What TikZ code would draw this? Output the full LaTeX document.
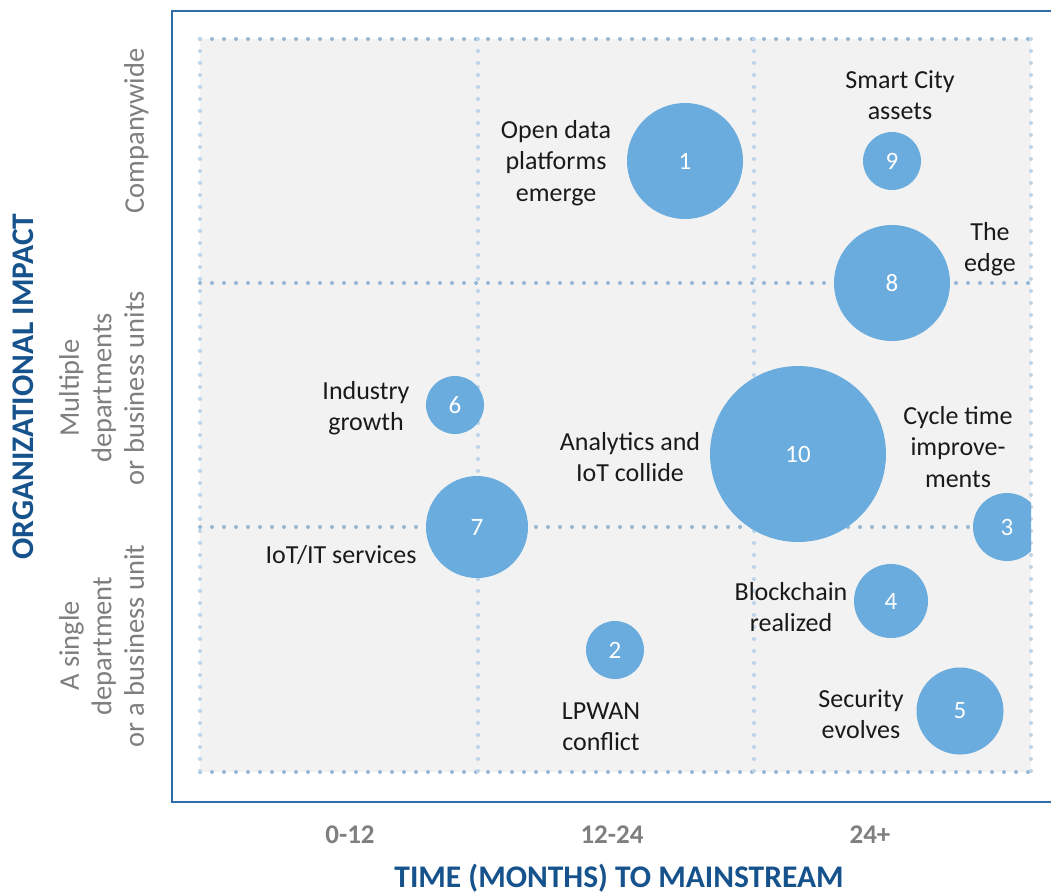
\documentclass[tikz,border=0pt]{standalone}
\usepackage{fontspec}
\setmainfont{Carlito}
\definecolor{bubc}{RGB}{107,172,222}
\definecolor{bgc}{RGB}{242,242,242}
\definecolor{framec}{RGB}{46,109,165}
\definecolor{hdotc}{RGB}{150,183,212}
\definecolor{vdotc}{RGB}{188,212,234}
\definecolor{labelc}{RGB}{26,26,26}
\definecolor{grayc}{RGB}{127,127,127}
\definecolor{titlec}{RGB}{22,82,140}
\newcommand\firstln{\rule{0pt}{22pt}}
\newcommand\lastln{\rule[-9pt]{0pt}{9pt}}
\begin{document}
\begin{tikzpicture}[x=1pt,y=-1pt,
  lbl/.style={align=center, inner sep=0pt, anchor=north, text=labelc,
    font=\fontsize{26}{31.5}\selectfont},
  lblone/.style={inner sep=0pt, anchor=base, text=labelc,
    font=\fontsize{26}{31.5}\selectfont},
  rowlbl/.style={align=center, inner sep=0pt, anchor=south, rotate=90, text=grayc,
    font=\fontsize{28.5}{32.5}\selectfont},
  ticklbl/.style={inner sep=0pt, anchor=base, text=grayc,
    font=\fontsize{27}{32}\selectfont\bfseries},
  axtitle/.style={inner sep=0pt, anchor=base, text=titlec,
    font=\fontsize{31.5}{36}\selectfont\bfseries},
  bub/.style={circle, fill=bubc, inner sep=0pt, text=white,
    font=\fontsize{25}{30}\selectfont},
  hdots/.style={draw=hdotc, line width=4pt, line cap=round, dash pattern=on 0pt off 12pt},
  vdots/.style={draw=vdotc, line width=4pt, line cap=round, dash pattern=on 0pt off 12pt}
]
\clip (0,0) rectangle (1051,895);
\fill[white] (0,0) rectangle (1051,895);
% frame and plot area
\draw[framec, line width=2.5pt] (172,11) rectangle (1080,802);
\fill[bgc] (200,39) rectangle (1031,772);
% grid
\foreach \yy in {39,283,527,772} \draw[hdots] (200,\yy) -- (1031,\yy);
\foreach \xx in {200,478,754,1031} \draw[vdots] (\xx,39) -- (\xx,772);
% axis titles
\node[axtitle] (xtitle) at (619,887) {TIME (MONTHS) TO MAINSTREAM};
\node[axtitle, rotate=90] (ytitle) at (33,386.5) {ORGANIZATIONAL IMPACT};
% tick labels
\node[ticklbl] (t1) at (350,843) {0-12};
\node[ticklbl] (t2) at (612,843) {12-24};
\node[ticklbl] (t3) at (870,843) {24+};
% row labels
\node[rowlbl] (r1) at (153,131) {Companywide\lastln};
\node[rowlbl] (r2) at (153,388) {Multiple\\departments\\or business units\lastln};
\node[rowlbl] (r3) at (153,646) {A single\\department\\or a business unit\lastln};
% bubble labels
\node[lbl] (l1) at (556,116) {\firstln Open data\\platforms\\emerge};
\node[lbl] (l9) at (900,66) {\firstln Smart City\\assets};
\node[lbl] (l8) at (990,218) {\firstln The\\edge};
\node[lbl] (l6) at (366,377) {\firstln Industry\\growth};
\node[lbl] (l10) at (630,428) {\firstln Analytics and\\IoT collide};
\node[lblone] (l7) at (341,563) {IoT/IT services};
\node[lbl] (l3) at (958,402) {\firstln Cycle time\\improve-\\ments};
\node[lbl] (l4) at (791,578) {\firstln Blockchain\\realized};
\node[lbl] (l2) at (601,697) {\firstln LPWAN\\conflict};
\node[lbl] (l5) at (861,685) {\firstln Security\\evolves};
% bubbles
\begin{scope}
\clip (200,39) rectangle (1031,772);
\node[bub, minimum size=116pt] (b1) at (685,161) {1};
\node[bub, minimum size=58pt] (b9) at (892,161) {9};
\node[bub, minimum size=116pt] (b8) at (892,283) {8};
\node[bub, minimum size=176pt] (b10) at (798,454) {10};
\node[bub, minimum size=58pt] (b6) at (455,405) {6};
\node[bub, minimum size=102pt] (b7) at (477,527) {7};
\node[bub, minimum size=68pt] (b3) at (1007,527) {3};
\node[bub, minimum size=74pt] (b4) at (891,601) {4};
\node[bub, minimum size=58pt] (b2) at (615,650) {2};
\node[bub, minimum size=87pt] (b5) at (960,711) {5};
\end{scope}
\end{tikzpicture}
\end{document}
